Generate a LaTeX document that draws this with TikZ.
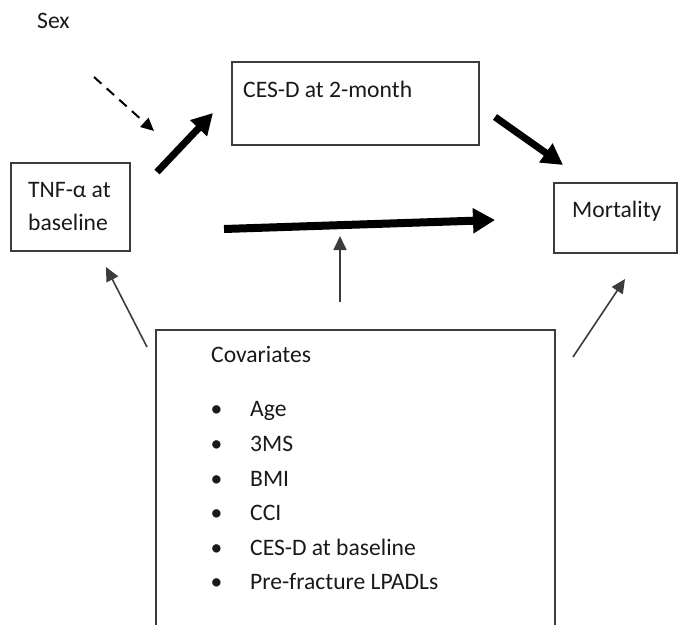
\documentclass[tikz,border=0pt]{standalone}
\usepackage{fontspec}
\setmainfont{Carlito}
\usetikzlibrary{arrows.meta}
\definecolor{ink}{RGB}{25,25,25}
\definecolor{rule}{RGB}{60,60,60}
\tikzset{
  txt/.style={anchor=base west, inner sep=0pt, text=ink, font=\fontsize{23.6}{28}\selectfont},
  blt/.style={anchor=base, inner sep=0pt, text=ink, font=\fontsize{23.6}{28}\selectfont},
  frame/.style={draw=rule, line width=1.3pt, inner sep=0pt},
  bold arrow/.style={draw=black, line width=7pt,
    -{Triangle[length=21pt, width=22pt]}},
  thin arrow/.style={draw=rule, line width=1.6pt,
    -{Triangle[length=14pt, width=13pt]}},
  dash arrow/.style={draw=black, line width=2pt, dash pattern=on 10pt off 7pt,
    -{Triangle[length=13pt, width=12pt]}},
}
\begin{document}
\begin{tikzpicture}[x=1pt, y=-1pt]
\useasboundingbox (0,0) rectangle (679,624);
\clip (0,0) rectangle (679,624);

% boxes
\node[frame, minimum width=119pt, minimum height=88pt] (tnf) at (70.5,207) {};
\node[frame, minimum width=247pt, minimum height=83pt] (cesd) at (355.5,103.5) {};
\node[frame, minimum width=123pt, minimum height=70pt] (mort) at (615.5,218) {};
\node[frame, minimum width=399pt, minimum height=330pt] (cov) at (355.5,495) {};

% labels
\node[txt] (sex) at (37,28) {Sex};
\node[txt] (tnfa) at (28,197) {TNF-α at};
\node[txt] (tnfb) at (28,230) {baseline};
\node[txt] (cesdl) at (243,97) {CES-D at 2-month};
\node[txt] (mortl) at (572,217) {Mortality};
\node[txt] (covl) at (211,362) {Covariates};

% covariate list
\foreach \y/\item [count=\i] in {416/Age, 451/3MS, 486/BMI, 520/CCI,
    555/CES-D at baseline, 589/Pre-fracture LPADLs} {
  \node[blt] (b\i) at (216.5,\y) {•};
  \node[txt] (it\i) at (250,\y) {\item};
}

% arrow end points
\coordinate (sexS) at (94,77);   \coordinate (sexE) at (154,131);
\coordinate (tcS) at (157,172);  \coordinate (tcE) at (213,113);
\coordinate (cmS) at (495,117);  \coordinate (cmE) at (563,165);
\coordinate (tmS) at (224,229);  \coordinate (tmE) at (495,220);
\coordinate (cvS) at (340,302);  \coordinate (cvE) at (340,236);
\coordinate (ctS) at (147,347);  \coordinate (ctE) at (106,267);
\coordinate (cmoS) at (573,357); \coordinate (cmoE) at (625,279);

% paths
\draw[dash arrow] (sexS) -- (sexE);
\draw[bold arrow] (tcS) -- (tcE);
\draw[bold arrow] (cmS) -- (cmE);
\draw[bold arrow, line width=8pt, -{Triangle[length=22pt, width=24pt]}] (tmS) -- (tmE);
\draw[thin arrow] (cvS) -- (cvE);
\draw[thin arrow] (ctS) -- (ctE);
\draw[thin arrow] (cmoS) -- (cmoE);
\end{tikzpicture}
\end{document}
